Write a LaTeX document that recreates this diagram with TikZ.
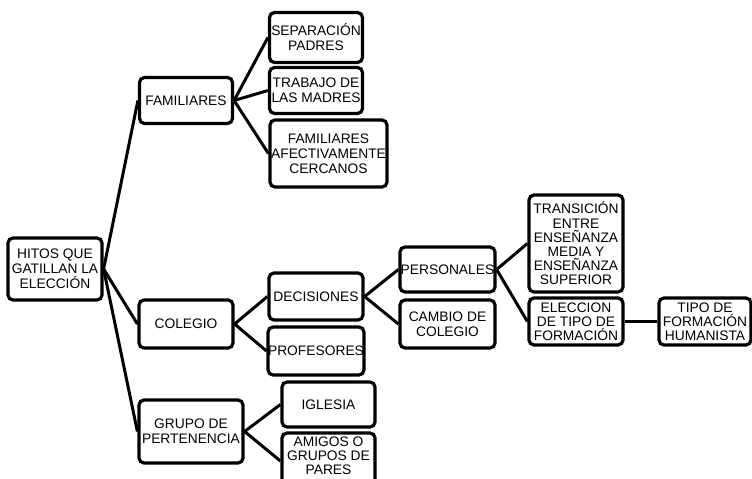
\documentclass[tikz,border=0pt]{standalone}
\usepackage{fontspec}
\setmainfont{Liberation Sans}
\begin{document}
\begin{tikzpicture}[x=1pt,y=-1pt,
  box/.style={draw=black,line width=3.2pt,rounded corners=5pt,fill=white,
    align=center,inner sep=0pt,font=\fontsize{13.8}{15}\selectfont},
  link/.style={draw=black,line width=3pt}]
\useasboundingbox (0,0) rectangle (752,479);
\node[box,minimum width=94pt,minimum height=62pt] (hitos) at (55,269) {HITOS QUE\\GATILLAN LA\\ELECCIÓN};
\node[box,minimum width=93pt,minimum height=46pt] (fam) at (186,100.5) {FAMILIARES};
\node[box,minimum width=93pt,minimum height=50pt] (sep) at (316,37.5) {SEPARACIÓN\\PADRES};
\node[box,minimum width=93pt,minimum height=46pt] (trab) at (316,90.5) {TRABAJO DE\\LAS MADRES};
\node[box,minimum width=117pt,minimum height=67pt] (afec) at (328.5,153.5) {FAMILIARES\\AFECTIVAMENTE\\CERCANOS};
\node[box,minimum width=94pt,minimum height=48pt] (col) at (186,324) {COLEGIO};
\node[box,minimum width=94pt,minimum height=47pt] (dec) at (316,296.5) {DECISIONES};
\node[box,minimum width=94pt,minimum height=48pt] (prof) at (316,351) {PROFESORES};
\node[box,minimum width=104pt,minimum height=63pt] (grupo) at (191,431.5) {GRUPO DE\\PERTENENCIA};
\node[box,minimum width=93pt,minimum height=45pt] (igl) at (328.5,404.5) {IGLESIA};
\node[box,minimum width=93pt,minimum height=56pt,font=\fontsize{13.8}{14}\selectfont] (amig) at (328.5,461) {AMIGOS O\\GRUPOS DE\\PARES\\[-4pt]\mbox{}};
\node[box,minimum width=95pt,minimum height=45pt] (pers) at (447.5,269.5) {PERSONALES};
\node[box,minimum width=95pt,minimum height=48pt] (camb) at (447.5,324) {CAMBIO DE\\COLEGIO};
\node[box,minimum width=94pt,minimum height=97pt,font=\fontsize{13.8}{14.2}\selectfont] (trans) at (576,243.5) {TRANSICIÓN\\ENTRE\\ENSEÑANZA\\MEDIA Y\\ENSEÑANZA\\SUPERIOR};
\node[box,minimum width=94pt,minimum height=47pt,font=\fontsize{13.8}{14.2}\selectfont] (elec) at (576,321.5) {ELECCION\\DE TIPO DE\\FORMACIÓN};
\node[box,minimum width=92pt,minimum height=47pt,font=\fontsize{13.8}{14.2}\selectfont] (tipo) at (705,321.5) {TIPO DE\\FORMACIÓN\\HUMANISTA};
\draw[link] (hitos.east) -- (fam.west);
\draw[link] (hitos.east) -- (col.west);
\draw[link] (hitos.east) -- (grupo.west);
\draw[link] (fam.east) -- (sep.west);
\draw[link] (fam.east) -- (trab.west);
\draw[link] (fam.east) -- (afec.west);
\draw[link] (col.east) -- (dec.west);
\draw[link] (col.east) -- (prof.west);
\draw[link] (grupo.east) -- (igl.west);
\draw[link] (grupo.east) -- (amig.west);
\draw[link] (dec.east) -- (pers.west);
\draw[link] (dec.east) -- (camb.west);
\draw[link] (pers.east) -- (trans.west);
\draw[link] (pers.east) -- (elec.west);
\draw[link] (elec.east) -- (tipo.west);
\end{tikzpicture}
\end{document}
